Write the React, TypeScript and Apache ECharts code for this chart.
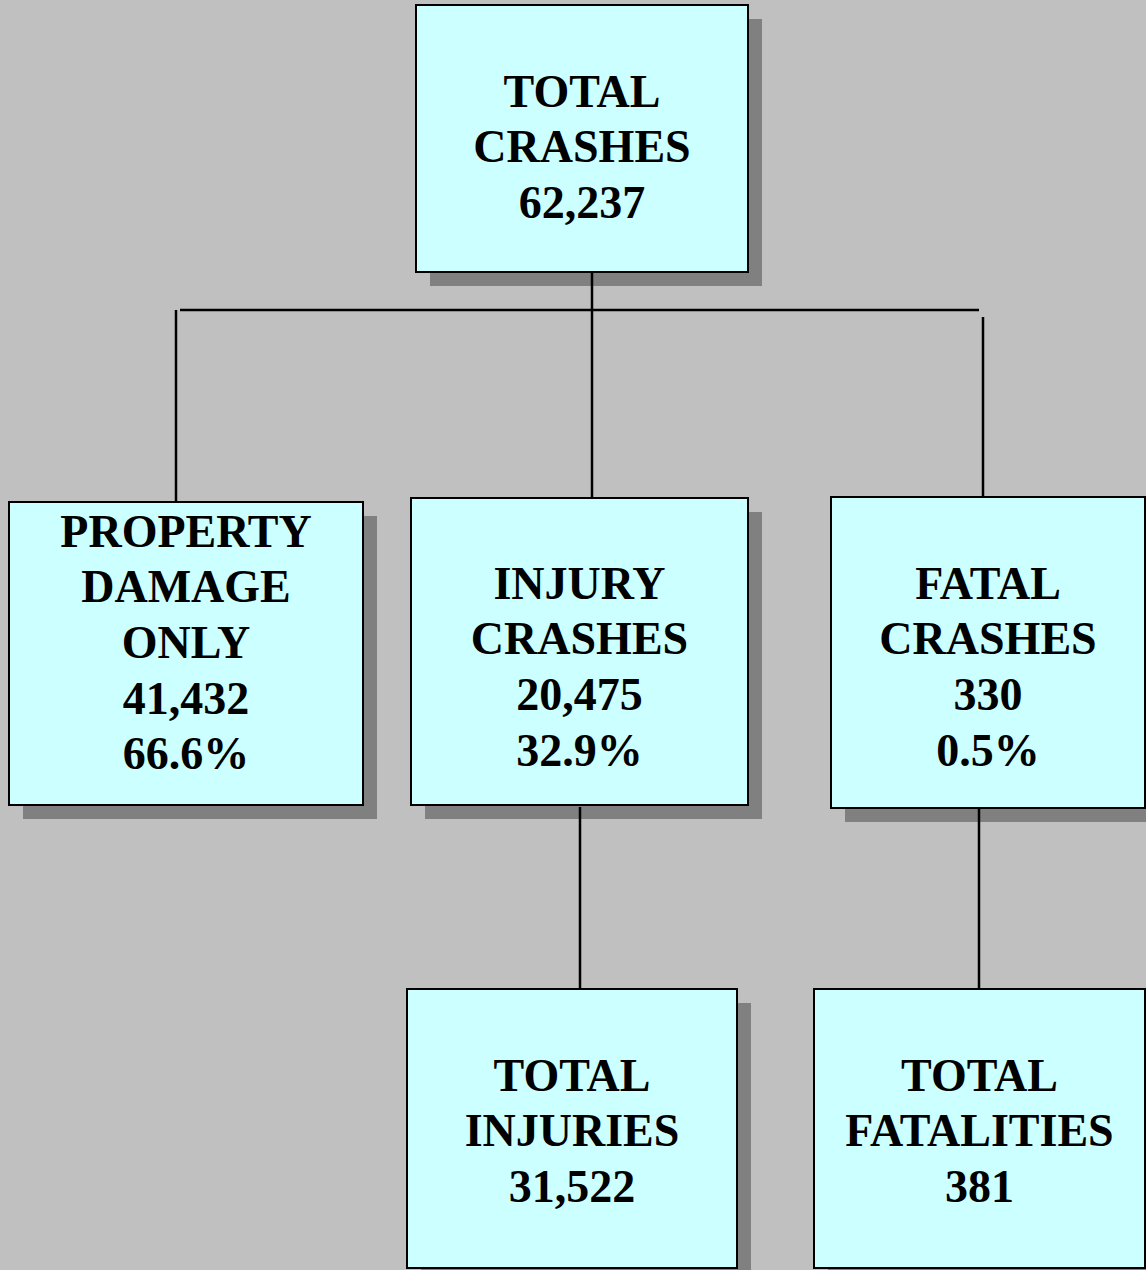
import React, { useEffect, useRef } from "react";
import * as echarts from "echarts";

// ---- data ----
const nodeTitles: string[][] = [
  ["TOTAL", "CRASHES"],
  ["PROPERTY", "DAMAGE", "ONLY"],
  ["INJURY", "CRASHES"],
  ["FATAL", "CRASHES"],
  ["TOTAL", "INJURIES"],
  ["TOTAL", "FATALITIES"],
];
const nodeCounts: string[] = ["62,237", "41,432", "20,475", "330", "31,522", "381"];
const nodeShares: string[] = ["", "66.6%", "32.9%", "0.5%", "", ""];

// ---- layout (positions only) ----
const boxes = [
  { x: 416, y: 5, w: 332, h: 267, firstLine: 91 },
  { x: 9, y: 502, w: 354, h: 303, firstLine: 531 },
  { x: 411, y: 498, w: 337, h: 307, firstLine: 583 },
  { x: 831, y: 497, w: 314, h: 311, firstLine: 583 },
  { x: 407, y: 989, w: 330, h: 279, firstLine: 1075 },
  { x: 814, y: 989, w: 331, h: 279, firstLine: 1075 },
];
const connectors: number[][] = [
  [592, 272, 592, 498],
  [180, 310, 979, 310],
  [176, 310, 176, 502],
  [983, 317, 983, 498],
  [580, 807, 580, 989],
  [979, 808, 979, 989],
];
const LINE_GAP = 55.7;
const SHADOW = 14;

export default function App() {
  const ref = useRef<HTMLDivElement>(null);
  useEffect(() => {
    if (!ref.current) return;
    const chart = echarts.init(ref.current, null, { renderer: "svg" });
    const elements: any[] = [];
    boxes.forEach((b) => {
      elements.push({
        type: "rect",
        shape: { x: b.x + SHADOW, y: b.y + SHADOW, width: b.w, height: b.h },
        style: { fill: "#808080" },
        z: 1,
      });
    });
    connectors.forEach((c) => {
      elements.push({
        type: "line",
        shape: { x1: c[0], y1: c[1], x2: c[2], y2: c[3] },
        style: { stroke: "#000", lineWidth: 2.5 },
        z: 2,
      });
    });
    boxes.forEach((b, i) => {
      elements.push({
        type: "rect",
        shape: { x: b.x, y: b.y, width: b.w, height: b.h },
        style: { fill: "#ccffff", stroke: "#000", lineWidth: 2 },
        z: 3,
      });
      const lines = [...nodeTitles[i], nodeCounts[i]];
      if (nodeShares[i]) lines.push(nodeShares[i]);
      lines.forEach((t, j) => {
        elements.push({
          type: "text",
          x: b.x + b.w / 2,
          y: b.firstLine + j * LINE_GAP,
          style: {
            text: t,
            fill: "#000",
            font: 'bold 46px "Liberation Serif", "Times New Roman", serif',
            textAlign: "center",
            textVerticalAlign: "middle",
          },
          z: 4,
        });
      });
    });
    chart.setOption({
      animation: false,
      backgroundColor: "#c0c0c0",
      graphic: { elements },
    });
    return () => chart.dispose();
  }, []);
  return (
    <div
      ref={ref}
      style={{ position: "absolute", left: 0, top: 0, width: 1146, height: 1270 }}
    />
  );
}
